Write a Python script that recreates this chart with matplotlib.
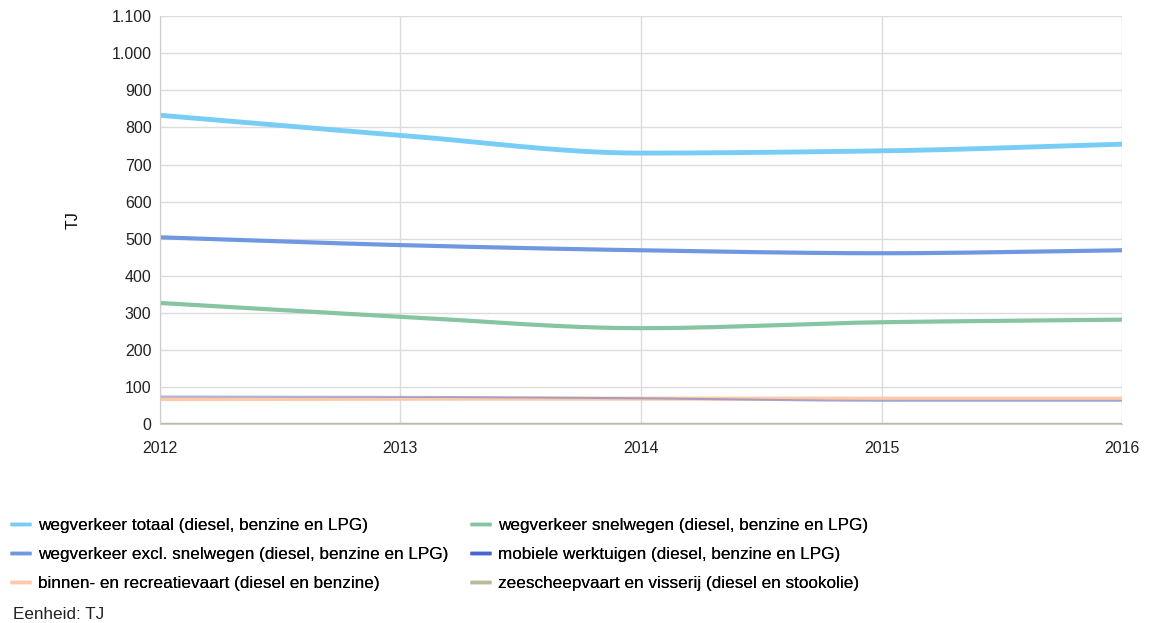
import numpy as np
import matplotlib
matplotlib.use('Agg')
import matplotlib.pyplot as plt

plt.rcParams['font.family'] = ['Liberation Sans', 'DejaVu Sans']

jaren = [2012, 2013, 2014, 2015, 2016]
wegverkeer_totaal = [833, 779, 731, 737, 755]
wegverkeer_excl_snelwegen = [504, 483, 469, 461, 469]
wegverkeer_snelwegen = [327, 290, 259, 275, 282]
mobiele_werktuigen = [75, 74, 70, 63, 63]
binnenvaart = [68, 69, 69, 69, 69]
zeescheepvaart = [2, 2, 2, 2, 2]

series = [
    ('wegverkeer totaal (diesel, benzine en LPG)', wegverkeer_totaal, '#78cdf6', 3.5, 1.0),
    ('wegverkeer excl. snelwegen (diesel, benzine en LPG)', wegverkeer_excl_snelwegen, '#7098e0', 3.0, 1.0),
    ('binnen- en recreatievaart (diesel en benzine)', binnenvaart, '#fdc9aa', 3.0, 1.0),
    ('wegverkeer snelwegen (diesel, benzine en LPG)', wegverkeer_snelwegen, '#86c4a2', 3.0, 1.0),
    ('mobiele werktuigen (diesel, benzine en LPG)', mobiele_werktuigen, '#4468d0', 1.5, 0.45),
    ('zeescheepvaart en visserij (diesel en stookolie)', zeescheepvaart, '#bdb99c', 2.5, 1.0),
]


def smooth(x, y, n=200):
    # monotone cubic (Fritsch-Carlson) so the line bends like the original
    x = np.asarray(x, float)
    y = np.asarray(y, float)
    h = np.diff(x)
    d = np.diff(y) / h
    m = np.zeros_like(y)
    m[0], m[-1] = d[0], d[-1]
    for i in range(1, len(y) - 1):
        if d[i - 1] * d[i] > 0:
            m[i] = 2 / (1 / d[i - 1] + 1 / d[i])
    xs = np.linspace(x[0], x[-1], n)
    idx = np.clip(np.searchsorted(x, xs) - 1, 0, len(x) - 2)
    t = (xs - x[idx]) / h[idx]
    h00 = 2 * t**3 - 3 * t**2 + 1
    h10 = t**3 - 2 * t**2 + t
    h01 = -2 * t**3 + 3 * t**2
    h11 = t**3 - t**2
    ys = h00 * y[idx] + h10 * h[idx] * m[idx] + h01 * y[idx + 1] + h11 * h[idx] * m[idx + 1]
    return xs, ys


fig = plt.figure(figsize=(11.5, 6.23), dpi=100)
ax = fig.add_axes([0.139, 0.319, 0.8367, 0.655])

# draw order: thick lines first, small ones on top
order = [0, 1, 3, 2, 4, 5]
handles = {}
for i in order:
    label, vals, col, lw, a = series[i]
    xs, ys = smooth(jaren, vals)
    ln, = ax.plot(xs, ys, color=col, lw=lw, alpha=a, solid_capstyle='butt', label=label)
    handles[i] = ln

ax.set_xlim(2012, 2016)
ax.set_ylim(0, 1100)
ax.set_xticks(jaren)
ax.set_yticks(range(0, 1101, 100))
ax.set_yticklabels([f'{v:,}'.replace(',', '.') for v in range(0, 1101, 100)])
ax.grid(True, color='#dcdcdc', lw=1)
ax.set_axisbelow(True)
ax.tick_params(length=0, labelsize=11.5, colors='#222222')
ax.tick_params(axis='y', pad=6)
ax.tick_params(axis='x', pad=12)
for s in ['top', 'right']:
    ax.spines[s].set_visible(False)
ax.spines['left'].set_color('#cccccc')
ax.spines['bottom'].set_color('#cccccc')
ax.set_ylabel('TJ', fontsize=11.5, labelpad=22)

# two legend columns, placed separately
leg_kw = dict(loc='upper left', frameon=False, fontsize=12.3, handlelength=1.2,
              handletextpad=0.4, labelspacing=0.82, borderaxespad=0, borderpad=0)
cols = [([0, 1, 2], 0.009), ([3, 4, 5], 0.409)]
for idxs, x0 in cols:
    leg = fig.legend([handles[i] for i in idxs], [series[i][0] for i in idxs],
                     bbox_to_anchor=(x0, 0.168), **leg_kw)
    for lh in leg.get_lines():
        lh.set_linewidth(2.5)
        lh.set_alpha(1)
    fig.add_artist(leg)

fig.text(0.011, 0.006, 'Eenheid: TJ', fontsize=12.3, color='#222222')

fig.savefig('out.png', dpi=100)
